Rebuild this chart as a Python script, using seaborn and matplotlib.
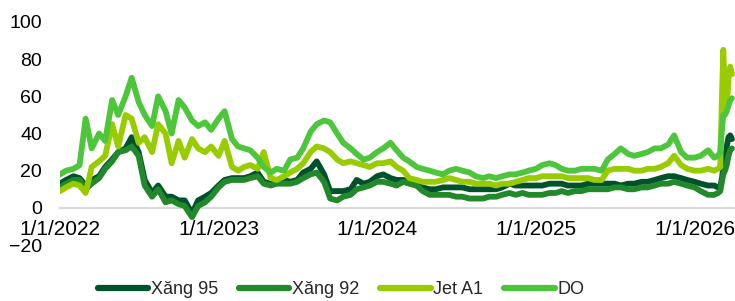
import pandas as pd
import matplotlib.pyplot as plt
from matplotlib.lines import Line2D
import seaborn as sns

# semi-monthly samples, then a denser run for the March 2026 spike
dates = list(pd.date_range("2022-01-01", "2026-02-16", freq="SMS")) + list(pd.to_datetime([
    "2026-02-24", "2026-03-01", "2026-03-05", "2026-03-08", "2026-03-12",
    "2026-03-16", "2026-03-20", "2026-03-24", "2026-03-28"]))

series_names = ["Xăng 95", "Xăng 92", "Jet A1", "DO"]

xang95 = [13, 15, 17, 16, 12, 15, 17, 22, 26, 30, 32, 38, 30, 15, 8, 12, 6, 6, 4, 4, -3, 4, 6, 8,
          12, 15, 16, 16, 16, 17, 19, 14, 13, 14, 15, 14, 15, 19, 21, 25, 18, 9, 9, 9, 10, 15, 13, 14,
          17, 18, 16, 15, 15, 14, 12, 11, 10, 10, 11, 11, 11, 11, 10, 10, 10, 10, 10, 11, 13, 12, 12, 12,
          12, 12, 13, 13, 13, 12, 12, 12, 13, 13, 13, 13, 13, 12, 13, 13, 14, 14, 15, 16, 17, 17, 16, 15,
          14, 13, 12, 12,
          11, 11, 16, 22, 27, 33, 38, 39, 37]

xang92 = [11, 13, 15, 15, 10, 13, 16, 21, 25, 30, 31, 33, 28, 12, 6, 10, 3, 4, 2, 1, -5, 1, 3, 6,
          11, 14, 15, 15, 15, 16, 17, 13, 12, 13, 13, 13, 14, 16, 18, 19, 14, 5, 4, 6, 7, 10, 11, 12,
          14, 14, 13, 12, 14, 13, 12, 9, 7, 7, 7, 7, 6, 6, 5, 5, 5, 6, 6, 7, 8, 7, 8, 7,
          7, 7, 8, 8, 9, 8, 9, 9, 10, 10, 10, 10, 11, 11, 10, 10, 11, 11, 12, 13, 13, 14, 13, 12,
          11, 9, 7, 7,
          8, 9, 14, 18, 20, 23, 28, 31, 32]

jet_a1 = [9, 11, 13, 12, 8, 22, 25, 28, 45, 33, 50, 48, 35, 38, 30, 45, 40, 24, 36, 27, 37, 32, 30, 33,
          28, 36, 22, 20, 22, 23, 21, 30, 16, 15, 17, 19, 21, 24, 30, 33, 32, 30, 26, 24, 25, 24, 23, 22,
          24, 24, 25, 22, 20, 16, 15, 14, 14, 14, 15, 16, 15, 14, 14, 13, 13, 13, 12, 13, 13, 14, 15, 16,
          16, 17, 17, 17, 17, 16, 16, 16, 16, 15, 15, 20, 21, 21, 21, 20, 20, 21, 21, 22, 24, 28, 23, 21,
          20, 20, 21, 20,
          21, 22, 60, 85, 60, 53, 70, 76, 72]

do = [18, 20, 21, 23, 48, 32, 40, 36, 58, 50, 60, 70, 57, 50, 44, 60, 52, 40, 58, 54, 47, 44, 46, 42,
      48, 52, 37, 33, 32, 31, 27, 22, 19, 21, 20, 26, 27, 32, 41, 45, 47, 46, 40, 35, 32, 29, 26, 27,
      30, 32, 35, 31, 27, 25, 22, 21, 20, 19, 18, 20, 21, 20, 19, 17, 16, 17, 16, 17, 18, 18, 19, 20,
      21, 23, 24, 23, 21, 20, 20, 21, 21, 21, 20, 26, 29, 32, 29, 28, 29, 30, 32, 32, 34, 39, 30, 27,
      27, 28, 31, 27,
      28, 30, 42, 50, 50, 52, 55, 58, 59]

colors = ["#00522C", "#22892A", "#99CC00", "#4DC63B"]
ytick_values = [-20, 0, 20, 40, 60, 80, 100]
xtick_dates = pd.to_datetime(["2022-01-01", "2023-01-01", "2024-01-01", "2025-01-01", "2026-01-01"])
xtick_labels = ["1/1/2022", "1/1/2023", "1/1/2024", "1/1/2025", "1/1/2026"]

frames = []
for name, vals in zip(series_names, [xang95, xang92, jet_a1, do]):
    frames.append(pd.DataFrame({"date": dates, "value": vals, "series": name}))
df = pd.concat(frames, ignore_index=True)

sns.set_style("white")
plt.rcParams["font.family"] = ["Liberation Sans", "DejaVu Sans"]

fig = plt.figure(figsize=(7.35, 3.01), dpi=100)
ax = fig.add_axes([60 / 735, 1 - 245 / 301, 1 - 60 / 735, (245 - 22) / 301])

sns.lineplot(data=df, x="date", y="value", hue="series", hue_order=series_names,
             palette=colors, linewidth=4.2, legend=False, ax=ax,
             solid_capstyle="round", solid_joinstyle="round")

ax.set_ylim(-20, 100)
ax.set_xlim(pd.Timestamp("2022-01-01"), pd.Timestamp("2026-04-04"))
ax.set_yticks(ytick_values)
ax.set_xticks(xtick_dates)
ax.set_xticklabels(xtick_labels)
ax.set_xlabel("")
ax.set_ylabel("")

for side in ["top", "right", "left"]:
    ax.spines[side].set_visible(False)
ax.spines["bottom"].set_position(("data", 0))
ax.spines["bottom"].set_color("#d9d9d9")
ax.spines["bottom"].set_linewidth(1.5)
ax.spines["bottom"].set_zorder(0)

ax.tick_params(axis="x", direction="out", length=5, width=1.5, color="#d9d9d9",
               labelsize=15, pad=4, labelcolor="black")
ax.tick_params(axis="y", length=0, labelsize=14, pad=13, labelcolor="black")

handles = [Line2D([0], [0], color=c, lw=4.5, solid_capstyle="round") for c in colors]
fig.legend(handles, series_names, loc="center", bbox_to_anchor=(341 / 735, 1 - 290 / 301),
           ncol=4, frameon=False, fontsize=13, handlelength=2.8, handletextpad=0.15,
           columnspacing=1.15, borderaxespad=0)

plt.savefig("out.png", dpi=100)
plt.close()
